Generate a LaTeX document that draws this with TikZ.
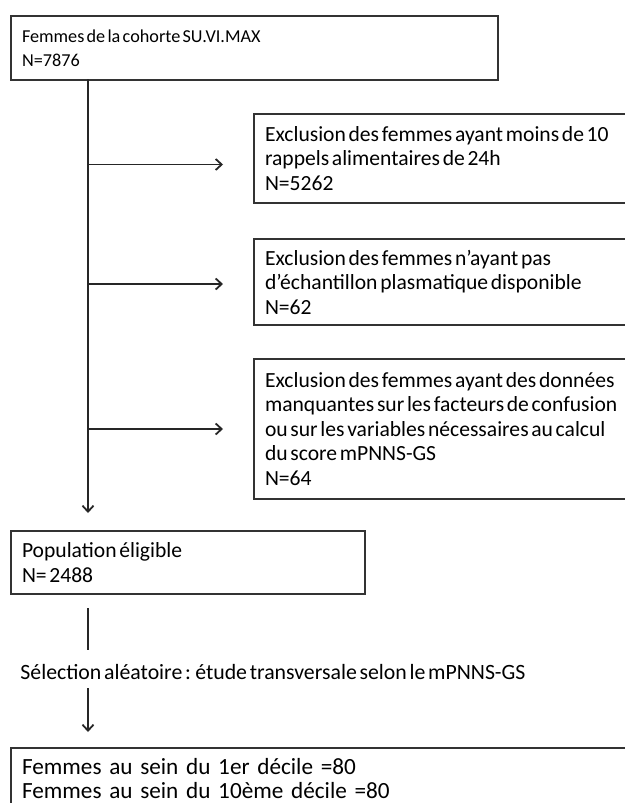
\documentclass[tikz,border=0pt]{standalone}
\usepackage{fontspec}
\setmainfont{Carlito}[WordSpace=0.55]
\usetikzlibrary{arrows.meta}
\tikzset{
    flowbox/.style={draw=black!80,line width=1pt,anchor=north west,align=flush left,
        inner xsep=5.5pt,font=\fontsize{10.8}{12.25}\selectfont},
    flowline/.style={draw=black!85,line width=.9pt},
    >={Straight Barb[length=3pt,width=5.5pt]},
}
\begin{document}
\begin{tikzpicture}[x=.5pt,y=-.5pt]
    \useasboundingbox (0,0) rectangle (625,803);
    \clip (0,0) rectangle (625,803);

    % main column
    \node[flowbox,minimum width=243.5pt,minimum height=32pt,text width=232.5pt,
        font=\fontsize{9.1}{12.25}\selectfont] (cohort) at (10,15)
        {Femmes de la cohorte SU.VI.MAX\\N=7876};
    \node[flowbox,minimum width=177pt,minimum height=31.5pt,text width=166pt] (elig) at (10,530)
        {Population éligible\\N= 2488};
    \node[anchor=west,inner sep=0pt,font=\fontsize{10.9}{12.25}\selectfont] (sel) at (20,672)
        {Sélection aléatoire : étude transversale selon le mPNNS-GS};
    \node[flowbox,minimum width=320pt,minimum height=30.5pt,text width=309pt,align=left,
        font=\fontsize{11.6}{12.25}\selectfont] (decile) at (10,747)
        {Femmes au sein du 1er décile =80\\Femmes au sein du 10ème décile =80};

    % exclusion boxes
    \node[flowbox,minimum width=200pt,minimum height=44.5pt,text width=189pt] (excl1) at (253,113)
        {Exclusion des femmes ayant moins de 10\\rappels alimentaires de 24h\\N=5262};
    \node[flowbox,minimum width=200pt,minimum height=43pt,text width=189pt] (excl2) at (253,238)
        {Exclusion des femmes n'ayant pas\\d'échantillon plasmatique disponible\\N=62};
    \node[flowbox,minimum width=200pt,minimum height=70pt,text width=189pt] (excl3) at (253,358)
        {Exclusion des femmes ayant des données\\manquantes sur les facteurs de confusion\\ou sur les variables nécessaires au calcul\\du score mPNNS-GS\\N=64};

    \coordinate (trunk) at (88,79);

    % connectors
    \draw[flowline,->,shorten >=8.5pt] (trunk) -- (trunk |- elig.north);
    \draw[flowline,->,shorten >=15pt] (trunk |- excl1.west) ++(0,6) -- ([yshift=-3pt]excl1.west);
    \draw[flowline,->,shorten >=15pt] (trunk |- excl2.west) ++(0,2) -- ([yshift=-1pt]excl2.west);
    \draw[flowline,->,shorten >=15pt] (trunk |- excl3.west) -- (excl3.west);
    \draw[flowline,shorten <=6.5pt,shorten >=7pt] (trunk |- elig.south) -- (trunk |- sel.north);
    \draw[flowline,->,shorten <=4pt,shorten >=7.5pt] (trunk |- sel.south) -- (trunk |- decile.north);
\end{tikzpicture}
\end{document}
